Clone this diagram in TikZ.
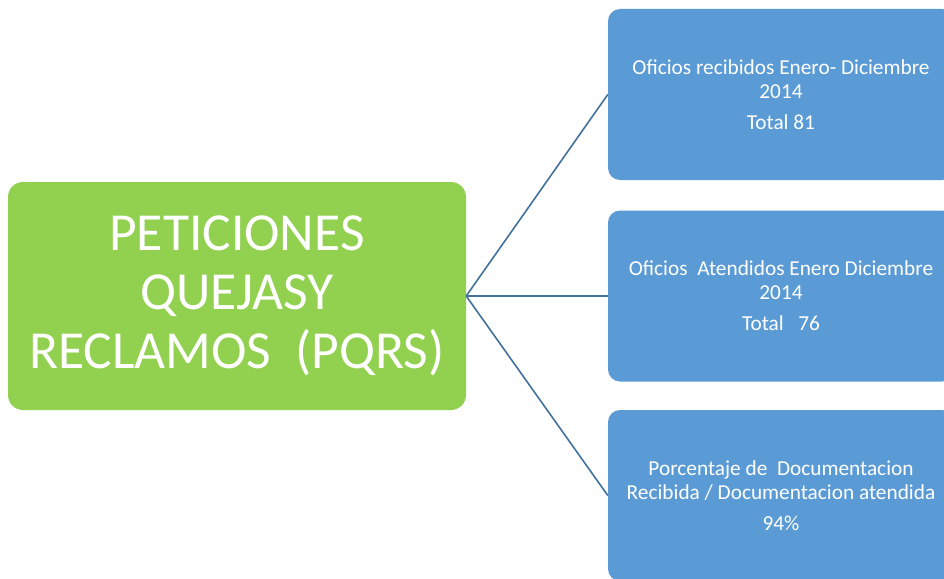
\documentclass[tikz,border=0pt]{standalone}
\usepackage{fontspec}
\setmainfont{Carlito}
\definecolor{pqrsgreen}{HTML}{92D050}
\definecolor{boxblue}{HTML}{5B9BD5}
\definecolor{linkblue}{HTML}{41719C}
\tikzset{
  mainbox/.style={fill=pqrsgreen,rounded corners=15pt,text=white,align=center,
    minimum width=458pt,minimum height=228pt,inner sep=0pt,
    font=\fontsize{53.5pt}{59pt}\selectfont},
  infobox/.style={fill=boxblue,rounded corners=12pt,text=white,align=center,
    minimum width=346pt,minimum height=171pt,inner sep=0pt,
    font=\fontsize{21.3pt}{24pt}\selectfont},
  link/.style={draw=linkblue,line width=1.6pt}
}
\begin{document}
\begin{tikzpicture}[x=1pt,y=-1pt]
    \useasboundingbox (0,0) rectangle (944,578);
    \clip (0,0) rectangle (944,578);
    \node[mainbox] (pqrs) at (237,296)
    {PETICIONES\\QUEJASY\\RECLAMOS\ \ (PQRS)};
    \node[infobox] (recibidos) at (781,94.5)
    {Oficios recibidos Enero- Diciembre\\2014\\[7pt]Total 81};
    \node[infobox] (atendidos) at (781,296)
    {Oficios\ \ Atendidos Enero Diciembre\\2014\\[7pt]Total\ \ \ 76};
    \node[infobox] (porcentaje) at (781,495.5)
    {Porcentaje de\ \ Documentacion\\Recibida / Documentacion atendida\\[7pt]94\%};
    \draw[link] (pqrs.east) -- (recibidos.west);
    \draw[link] (pqrs.east) -- (atendidos.west);
    \draw[link] (pqrs.east) -- (porcentaje.west);
\end{tikzpicture}
\end{document}
